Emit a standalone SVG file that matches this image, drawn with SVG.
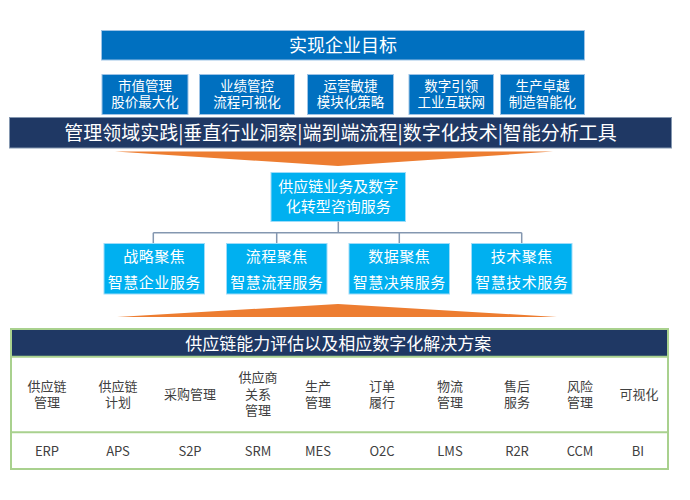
<svg xmlns="http://www.w3.org/2000/svg" width="690" height="500" viewBox="0 0 690 500">
<style>
text{font-family:"Liberation Sans","Noto Sans CJK SC",sans-serif;text-anchor:middle}
text.lat{font-family:"Noto Sans CJK SC","Noto Sans",sans-serif}
.w{fill:#ffffff}
.g{fill:#404040;font-size:13px}
.blue{fill:#0070C0;stroke:#9DC3E6;stroke-width:1}
.cyan{fill:#00B0F0;stroke:#9DDCF9;stroke-width:1}
.navy{fill:#1F3864;stroke:#8497B0;stroke-width:1}
.conn{fill:none;stroke:#8497B0;stroke-width:1.5}
.arrow{fill:#ED7D31}
.grn{fill:none;stroke:#A9D18E;stroke-width:2}
</style>
<rect width="690" height="500" fill="#ffffff"/>

<g id="goal">
<rect class="blue" x="101.5" y="30.5" width="483" height="29.5"/>
<text class="w" x="343" y="51.5" font-size="18">实现企业目标</text>
</g>

<g id="g1">
<rect class="blue" x="102" y="74.5" width="86" height="40"/>
<text class="w" font-size="13.5"><tspan x="145" y="90.6">市值管理</tspan><tspan x="145" y="107.2">股价最大化</tspan></text>
</g>
<g id="g2">
<rect class="blue" x="199.5" y="74.5" width="95" height="40"/>
<text class="w" font-size="13.5"><tspan x="247" y="90.6">业绩管控</tspan><tspan x="247" y="107.2">流程可视化</tspan></text>
</g>
<g id="g3">
<rect class="blue" x="307.5" y="74.5" width="86" height="40"/>
<text class="w" font-size="13.5"><tspan x="350.5" y="90.6">运营敏捷</tspan><tspan x="350.5" y="107.2">模块化策略</tspan></text>
</g>
<g id="g4">
<rect class="blue" x="409" y="74.5" width="84.5" height="40"/>
<text class="w" font-size="13.5"><tspan x="451.2" y="90.6">数字引领</tspan><tspan x="451.2" y="107.2">工业互联网</tspan></text>
</g>
<g id="g5">
<rect class="blue" x="500.5" y="74.5" width="84" height="40"/>
<text class="w" font-size="13.5"><tspan x="542.5" y="90.6">生产卓越</tspan><tspan x="542.5" y="107.2">制造智能化</tspan></text>
</g>

<g id="band">
<rect class="navy" x="9.5" y="117.5" width="662" height="30.5"/>
<text class="w lat" x="340.5" y="139.5" font-size="19">管理领域实践|垂直行业洞察|端到端流程|数字化技术|智能分析工具</text>
</g>

<g id="arrow-down">
<polygon class="arrow" points="115,151.5 553,151.5 338,166"/>
</g>

<g id="consult">
<rect class="cyan" x="271" y="172.5" width="134.5" height="49"/>
<text class="w" font-size="15"><tspan x="338.3" y="192">供应链业务及数字</tspan><tspan x="338.3" y="212">化转型咨询服务</tspan></text>
</g>

<g id="connectors">
<path class="conn" d="M338.3,221.7V232.7M153.3,232.7H521.7M153.3,232.7V243.3M276.7,232.7V243.3M399.3,232.7V243.3M521.7,232.7V243.3"/>
</g>

<g id="f1">
<rect class="cyan" x="104" y="243.5" width="100.5" height="50.5"/>
<text class="w" font-size="15" letter-spacing="0.5"><tspan x="154.3" y="262">战略聚焦</tspan><tspan x="154.3" y="287.7">智慧企业服务</tspan></text>
</g>
<g id="f2">
<rect class="cyan" x="226.5" y="243.5" width="100.5" height="50.5"/>
<text class="w" font-size="15" letter-spacing="0.5"><tspan x="276.7" y="262">流程聚焦</tspan><tspan x="276.7" y="287.7">智慧流程服务</tspan></text>
</g>
<g id="f3">
<rect class="cyan" x="349" y="243.5" width="100.5" height="50.5"/>
<text class="w" font-size="15" letter-spacing="0.5"><tspan x="399.3" y="262">数据聚焦</tspan><tspan x="399.3" y="287.7">智慧决策服务</tspan></text>
</g>
<g id="f4">
<rect class="cyan" x="471.5" y="243.5" width="100.5" height="50.5"/>
<text class="w" font-size="15" letter-spacing="0.5"><tspan x="521.7" y="262">技术聚焦</tspan><tspan x="521.7" y="287.7">智慧技术服务</tspan></text>
</g>

<g id="arrow-up">
<polygon class="arrow" points="117,317 338,304 557,317"/>
</g>

<g id="table">
<rect x="11" y="329" width="657" height="27.7" fill="#1F3864"/>
<rect class="grn" x="11" y="329" width="657" height="140"/>
<line class="grn" x1="11" y1="356.7" x2="668" y2="356.7"/>
<line class="grn" x1="11" y1="432.3" x2="668" y2="432.3"/>
<text class="w" x="338.3" y="350" font-size="17">供应链能力评估以及相应数字化解决方案</text>

<text class="g"><tspan x="47" y="391">供应链</tspan><tspan x="47" y="407">管理</tspan></text>
<text class="g"><tspan x="118" y="391">供应链</tspan><tspan x="118" y="407">计划</tspan></text>
<text class="g" x="190" y="398.7">采购管理</text>
<text class="g"><tspan x="258" y="382">供应商</tspan><tspan x="258" y="398.7">关系</tspan><tspan x="258" y="415">管理</tspan></text>
<text class="g"><tspan x="318" y="391">生产</tspan><tspan x="318" y="407">管理</tspan></text>
<text class="g"><tspan x="382" y="391">订单</tspan><tspan x="382" y="407">履行</tspan></text>
<text class="g"><tspan x="450" y="391">物流</tspan><tspan x="450" y="407">管理</tspan></text>
<text class="g"><tspan x="517" y="391">售后</tspan><tspan x="517" y="407">服务</tspan></text>
<text class="g"><tspan x="580" y="391">风险</tspan><tspan x="580" y="407">管理</tspan></text>
<text class="g" x="639" y="398.7">可视化</text>

<text class="g lat" x="47" y="455.6">ERP</text>
<text class="g lat" x="118" y="455.6">APS</text>
<text class="g lat" x="190" y="455.6">S2P</text>
<text class="g lat" x="258" y="455.6">SRM</text>
<text class="g lat" x="318" y="455.6">MES</text>
<text class="g lat" x="382" y="455.6">O2C</text>
<text class="g lat" x="450" y="455.6">LMS</text>
<text class="g lat" x="517" y="455.6">R2R</text>
<text class="g lat" x="580" y="455.6">CCM</text>
<text class="g lat" x="638" y="455.6">BI</text>
</g>
</svg>
